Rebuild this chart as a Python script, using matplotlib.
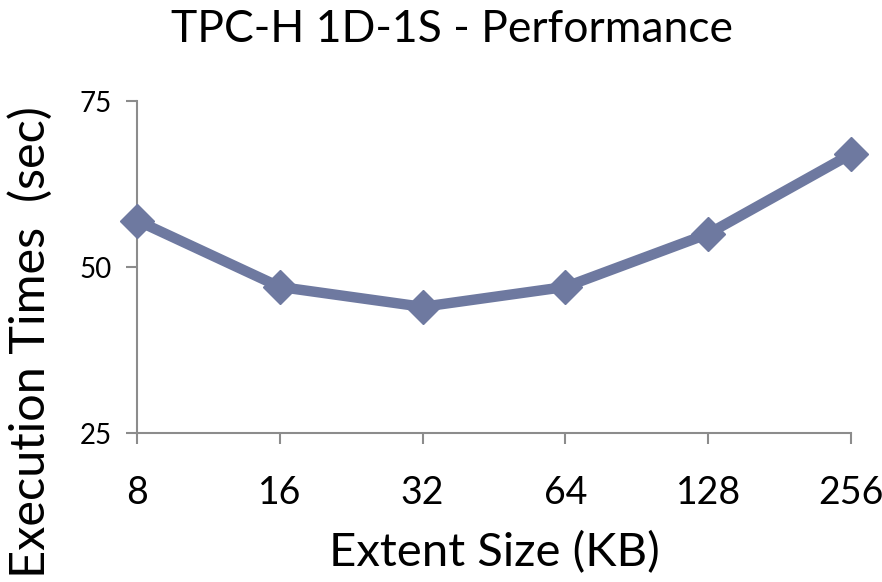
import matplotlib
matplotlib.use("Agg")
import matplotlib.pyplot as plt

categories = ["8", "16", "32", "64", "128", "256"]
exec_times = [57, 47, 44, 47, 55, 67]
y_ticks = [25, 50, 75]

plt.rcParams['font.family'] = ['Lato', 'DejaVu Sans']

fig = plt.figure(figsize=(8.82, 5.82), dpi=100)
ax = fig.add_axes([137/882, 1 - 433/582, (851-137)/882, (433-101)/582])

x = list(range(len(categories)))
ax.plot(x, exec_times, color='#6E79A0', linewidth=7.5, marker='D', markersize=17,
        solid_joinstyle='miter', clip_on=False, zorder=3)

ax.set_xlim(0, len(categories) - 1)
ax.set_ylim(25, 75)
ax.set_xticks(x)
ax.set_xticklabels(categories, fontsize=27)
ax.set_yticks(y_ticks)
ax.set_yticklabels([str(t) for t in y_ticks], fontsize=20)

for s in ['top', 'right']:
    ax.spines[s].set_visible(False)
for s in ['left', 'bottom']:
    ax.spines[s].set_color('#8C8C8C')
    ax.spines[s].set_linewidth(1.5)
ax.tick_params(axis='both', colors='#8C8C8C', width=1.5, length=8, labelcolor='black')
ax.tick_params(axis='x', pad=22)
ax.tick_params(axis='y', pad=10)

ax.set_xlabel("Extent Size (KB)", fontsize=34)
ax.xaxis.set_label_coords(0.5, (433 - 553) / 332)
ax.xaxis.label.set_va('center')
ax.set_ylabel("Execution Times  (sec)", fontsize=35)
ax.yaxis.set_label_coords((30 - 137) / 714, (433 - 342) / 332)
ax.yaxis.label.set_va('center')
fig.text(452/882, 1 - 30/582, "TPC-H 1D-1S - Performance", fontsize=32,
         ha='center', va='center')

fig.savefig("out.png", dpi=100)
